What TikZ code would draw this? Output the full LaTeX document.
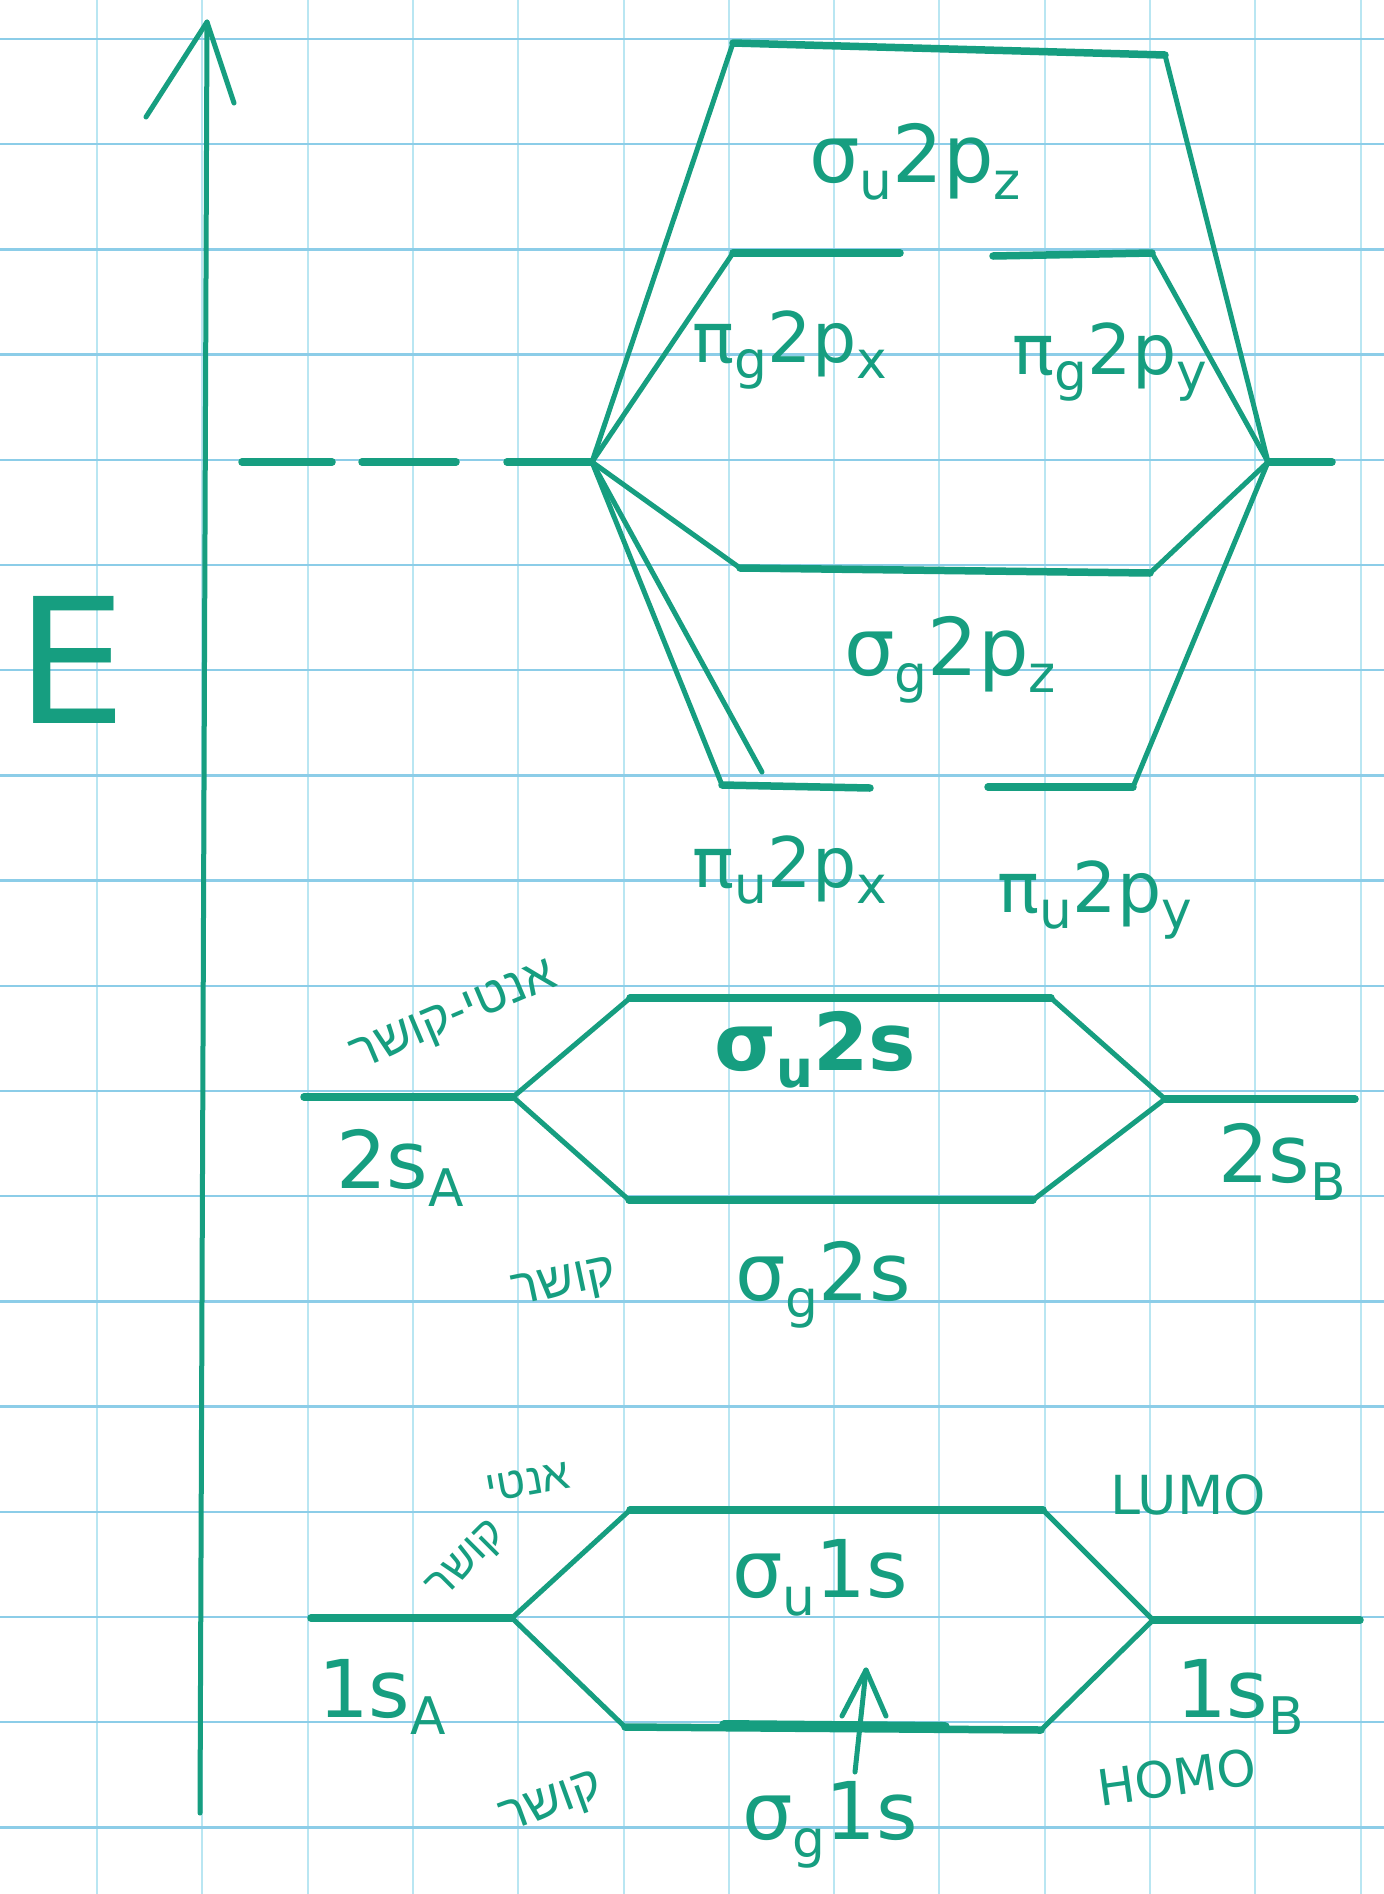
\documentclass[tikz,border=0pt]{standalone}
\usepackage{fontspec}
\setmainfont{DejaVu Sans}
\newfontfamily\hebfont[Script=Hebrew]{Liberation Sans}
\TeXXeTstate=1
\definecolor{ink}{RGB}{22,158,128}
\definecolor{gridh}{RGB}{140,205,232}
\definecolor{gridv}{RGB}{185,230,242}
\newcommand\dn[1]{\raisebox{-0.22em}{\fontsize{52}{60}\selectfont #1}}
\tikzset{
  ink/.style={draw=ink, line width=5bp, line cap=round, line join=round},
  level/.style={draw=ink, line width=7.5bp, line cap=round},
  hgrid/.style={draw=gridh, line width=2.5bp},
  vgrid/.style={draw=gridv, line width=2bp},
  lab/.style={text=ink, inner sep=0pt, font=\fontsize{80}{90}\selectfont},
  plab/.style={text=ink, inner sep=0pt, font=\fontsize{70}{80}\selectfont},
  small/.style={text=ink, inner sep=0pt, font=\fontsize{54}{60}\selectfont},
  heb/.style={text=ink, inner sep=0pt, font=\hebfont\fontsize{50}{56}\selectfont},
  hebs/.style={text=ink, inner sep=0pt, font=\hebfont\fontsize{44}{50}\selectfont},
}
\begin{document}
\begin{tikzpicture}[x=1bp,y=-1bp]
\useasboundingbox (0,0) rectangle (1384,1894);
\fill[white] (0,0) rectangle (1384,1894);
% grid paper
\foreach \k in {0,...,12} \draw[vgrid] ({97+105.3*\k},0) -- ({97+105.3*\k},1894);
\foreach \k in {0,...,17} \draw[hgrid] (0,{39+105.2*\k}) -- (1384,{39+105.2*\k});

% energy axis
\coordinate (axB) at (200,1813);
\coordinate (axT) at (207,22);
\coordinate (axL) at (146,117);
\coordinate (axR) at (234,103);
\draw[ink] (axB) -- (axT);
\draw[ink] (axL) -- (axT) -- (axR);
\node[text=ink, inner sep=0pt, font=\fontsize{175}{180}\selectfont] (E) at (72,660) {E};

% ---------- 2p ----------
\coordinate (L2p) at (592,462);
\coordinate (R2p) at (1268,462);
\coordinate (d1a) at (242,462); \coordinate (d1b) at (332,462);
\coordinate (d2a) at (362,462); \coordinate (d2b) at (456,462);
\coordinate (d3a) at (507,462);
\coordinate (R2pe) at (1332,462);
\draw[level] (d1a) -- (d1b);
\draw[level] (d2a) -- (d2b);
\draw[level] (d3a) -- (L2p);
\draw[level] (R2p) -- (R2pe);

\coordinate (su2pL) at (733,43);  \coordinate (su2pR) at (1165,55);
\coordinate (pgxL) at (733,253);  \coordinate (pgxR) at (900,253);
\coordinate (pgyL) at (993,256);  \coordinate (pgyR) at (1152,253);
\coordinate (sg2pL) at (740,568); \coordinate (sg2pR) at (1150,573);
\coordinate (puxL) at (722,785);  \coordinate (puxR) at (870,788);
\coordinate (puxM) at (762,772);
\coordinate (puyL) at (988,787);  \coordinate (puyR) at (1133,787);

\draw[level] (su2pL) -- (su2pR);
\draw[level] (pgxL) -- (pgxR);
\draw[level] (pgyL) -- (pgyR);
\draw[level] (sg2pL) -- (sg2pR);
\draw[level] (puxL) -- (puxR);
\draw[level] (puyL) -- (puyR);

\draw[ink] (L2p) -- (su2pL);
\draw[ink] (L2p) -- (pgxL);
\draw[ink] (L2p) -- (sg2pL);
\draw[ink] (L2p) -- (puxL);
\draw[ink] (L2p) -- (puxM);
\draw[ink] (R2p) -- (su2pR);
\draw[ink] (R2p) -- (pgyR);
\draw[ink] (R2p) -- (sg2pR);
\draw[ink] (R2p) -- (puyR);

\node[lab]  (tsu2p) at (915,162) {σ\dn{u}2p\dn{z}};
\node[plab] (tpgx)  at (790,350) {π\dn{g}2p\dn{x}};
\node[plab] (tpgy)  at (1110,362) {π\dn{g}2p\dn{y}};
\node[lab]  (tsg2p) at (950,660) {σ\dn{g}2p\dn{z}};
\node[plab] (tpux)  at (790,870) {π\dn{u}2p\dn{x}};
\node[plab] (tpuy)  at (1095,900) {π\dn{u}2p\dn{y}};

% ---------- 2s ----------
\coordinate (L2s) at (513,1097); \coordinate (L2se) at (304,1097);
\coordinate (R2s) at (1165,1099); \coordinate (R2se) at (1355,1099);
\coordinate (su2sL) at (630,998);  \coordinate (su2sR) at (1051,998);
\coordinate (sg2sL) at (629,1200); \coordinate (sg2sR) at (1033,1200);
\draw[level] (L2se) -- (L2s);
\draw[level] (R2s) -- (R2se);
\draw[level] (su2sL) -- (su2sR);
\draw[level] (sg2sL) -- (sg2sR);
\draw[ink] (L2s) -- (su2sL);
\draw[ink] (L2s) -- (sg2sL);
\draw[ink] (R2s) -- (su2sR);
\draw[ink] (R2s) -- (sg2sR);

\node[lab, font=\fontsize{80}{90}\selectfont\bfseries] (tsu2s) at (815,1050) {σ\dn{u}2s};
\node[lab] (tsg2s) at (823,1285) {σ\dn{g}2s};
\node[lab] (t2sA) at (400,1168) {2s\dn{A}};
\node[lab] (t2sB) at (1282,1162) {2s\dn{B}};
\node[heb, rotate=23] (hanti2) at (455,1018) {\beginR אנטי-קושר\endR};
\node[heb, rotate=12] (hbond2) at (565,1285) {\beginR קושר\endR};

% ---------- 1s ----------
\coordinate (L1s) at (512,1618); \coordinate (L1se) at (311,1618);
\coordinate (R1s) at (1153,1620); \coordinate (R1se) at (1360,1620);
\coordinate (su1sL) at (630,1510); \coordinate (su1sR) at (1043,1510);
\coordinate (sg1sL) at (625,1727); \coordinate (sg1sR) at (1041,1730);
\coordinate (sg1sA) at (724,1725); \coordinate (sg1sB) at (945,1727);
\draw[level] (L1se) -- (L1s);
\draw[level] (R1s) -- (R1se);
\draw[level] (su1sL) -- (su1sR);
\draw[level] (sg1sL) -- (sg1sR);
\draw[level, line width=10bp] (sg1sA) -- (sg1sB);
\draw[ink] (L1s) -- (su1sL);
\draw[ink] (L1s) -- (sg1sL);
\draw[ink] (R1s) -- (su1sR);
\draw[ink] (R1s) -- (sg1sR);

% electron
\coordinate (eB) at (855,1772);
\coordinate (eT) at (866,1670);
\coordinate (eL) at (842,1716);
\coordinate (eR) at (886,1716);
\draw[ink] (eB) -- (eT);
\draw[ink] (eL) -- (eT) -- (eR);

\node[lab] (tsu1s) at (820,1578) {σ\dn{u}1s};
\node[lab] (tsg1s) at (830,1825) {σ\dn{g}1s};
\node[lab] (t1sA) at (382,1697) {1s\dn{A}};
\node[lab] (t1sB) at (1240,1697) {1s\dn{B}};
\node[small] (tLUMO) at (1188,1495) {LUMO};
\node[small, rotate=8, font=\fontsize{50}{56}\selectfont] (tHOMO) at (1177,1777) {HOMO};
\node[hebs, rotate=10] (hanti1) at (528,1482) {\beginR אנטי\endR};
\node[hebs, rotate=45] (hbond1a) at (468,1562) {\beginR קושר\endR};
\node[heb, rotate=20] (hbond1b) at (552,1805) {\beginR קושר\endR};
\end{tikzpicture}
\end{document}
